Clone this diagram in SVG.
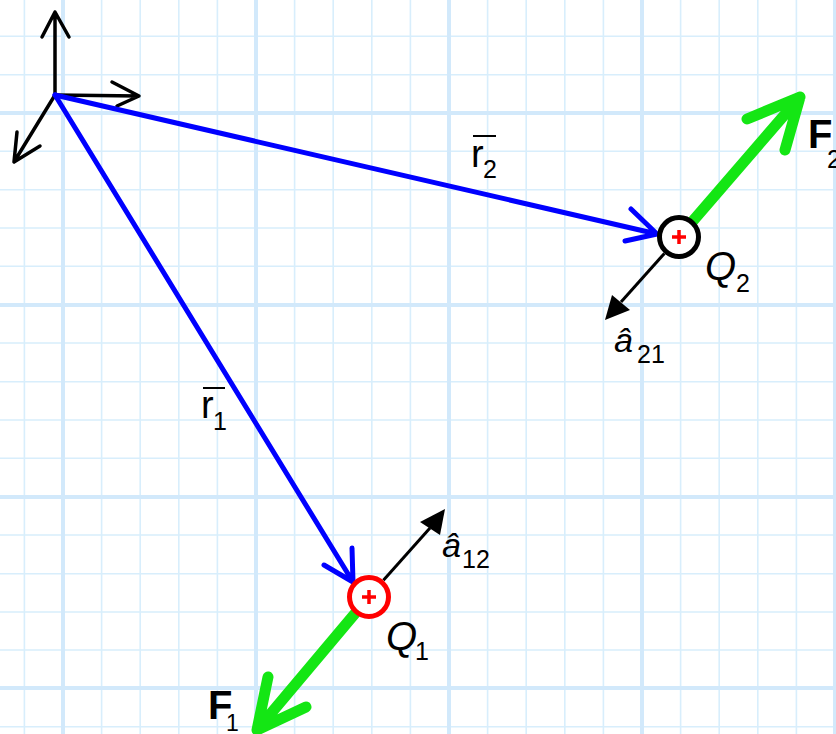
<svg xmlns="http://www.w3.org/2000/svg" width="836" height="734" viewBox="0 0 836 734">
<style>
.thin{stroke:#d8eefc;stroke-width:1.6;fill:none}
.thick{stroke:#d2e9fb;stroke-width:4;fill:none}
.ax{stroke:#000;stroke-width:3.5;fill:none;stroke-linecap:round;stroke-linejoin:round}
.blue{stroke:#0000ff;stroke-width:5;fill:none;stroke-linecap:round;stroke-linejoin:round}
.green{stroke:#14e614;stroke-width:11;fill:none;stroke-linecap:round;stroke-linejoin:round}
.unit{stroke:#000;stroke-width:3;fill:none}
.head{fill:#000}
.plus{stroke:#ff0000;stroke-width:3.5;stroke-linecap:butt}
.lbl{font-family:"Liberation Sans","DejaVu Sans",sans-serif;fill:#000}
.big{font-size:40px}
.sub{font-size:25px}
.it{font-style:italic}
.bold{font-weight:bold}
</style>
<rect width="836" height="734" fill="#ffffff"/>
<g id="grid">
<path class="thin" d="M24.4,0V734M101.6,0V734M140.2,0V734M178.8,0V734M217.4,0V734M294.6,0V734M333.2,0V734M371.8,0V734M410.4,0V734M487.6,0V734M526.2,0V734M564.8,0V734M603.4,0V734M680.6,0V734M719.2,0V734M757.8,0V734M796.4,0V734"/>
<path class="thin" d="M0,36.3H836M0,74.7H836M0,151.3H836M0,189.7H836M0,228H836M0,266.3H836M0,343H836M0,381.7H836M0,420H836M0,458.3H836M0,535H836M0,573.7H836M0,612H836M0,650H836M0,726.7H836"/>
<path class="thick" d="M63,0V734M256,0V734M449,0V734M642,0V734M835,0V734M0,113H836M0,305H836M0,497H836M0,688H836"/>
</g>
<g id="axes">
<path class="ax" d="M55,95L55,12M42,37L55,12L69,37"/>
<path class="ax" d="M55,95L139,96M112,82L139,96L117,106"/>
<path class="ax" d="M55,95L14,162M17,132L14,162L40,146"/>
</g>
<g id="connectors">
<path class="blue" d="M55,95L657,234M631,209L657,234L625,241"/>
<path class="blue" d="M55,95L353,582M352,548L353,582L324,565"/>
<path class="green" d="M693.4,220.3L800,97M747,119L800,97L785,150"/>
<path class="green" d="M354.8,613.8L257,730M268,677L257,730L306,707"/>
<path class="unit" d="M664.4,253.4L621,302"/>
<polygon class="head" points="605,320 612,295 630,310"/>
<path class="unit" d="M383.4,580.3L430,528"/>
<polygon class="head" points="445,509 420,522 440,535"/>
</g>
<g id="Q2">
<circle cx="679" cy="237" r="19.5" fill="#fff" stroke="#000" stroke-width="5"/>
<path class="plus" d="M672,237H686M679,230V244"/>
</g>
<g id="Q1">
<circle cx="369" cy="597" r="19.5" fill="#fff" stroke="#ff0000" stroke-width="5"/>
<path class="plus" d="M362,597H376M369,590V604"/>
</g>
<g id="labels">
<g id="label-r2">
<text class="lbl" x="471" y="167" font-size="38">r</text>
<path d="M473,136H496" stroke="#000" stroke-width="2"/>
<text class="lbl sub" x="483" y="178">2</text>
</g>
<g id="label-r1">
<text class="lbl" x="201" y="418" font-size="38">r</text>
<path d="M203,388H225" stroke="#000" stroke-width="2"/>
<text class="lbl sub" x="213" y="430">1</text>
</g>
<g id="label-Q2">
<text class="lbl big it" x="705" y="280">Q</text>
<text class="lbl sub" x="736" y="292">2</text>
</g>
<g id="label-Q1">
<text class="lbl big it" x="386" y="650">Q</text>
<text class="lbl sub" x="415" y="660">1</text>
</g>
<g id="label-F2">
<text class="lbl big bold" x="808" y="148">F</text>
<text class="lbl sub" x="827" y="168">2</text>
</g>
<g id="label-F1">
<text class="lbl big bold" x="208" y="719">F</text>
<text class="lbl" x="226" y="731" font-size="23">1</text>
</g>
<g id="label-a21">
<text class="lbl it" x="614" y="352" font-size="34">â</text>
<text class="lbl sub" x="637" y="363">21</text>
</g>
<g id="label-a12">
<text class="lbl it" x="442" y="557" font-size="34">â</text>
<text class="lbl sub" x="462" y="568">12</text>
</g>
</g>
</svg>
